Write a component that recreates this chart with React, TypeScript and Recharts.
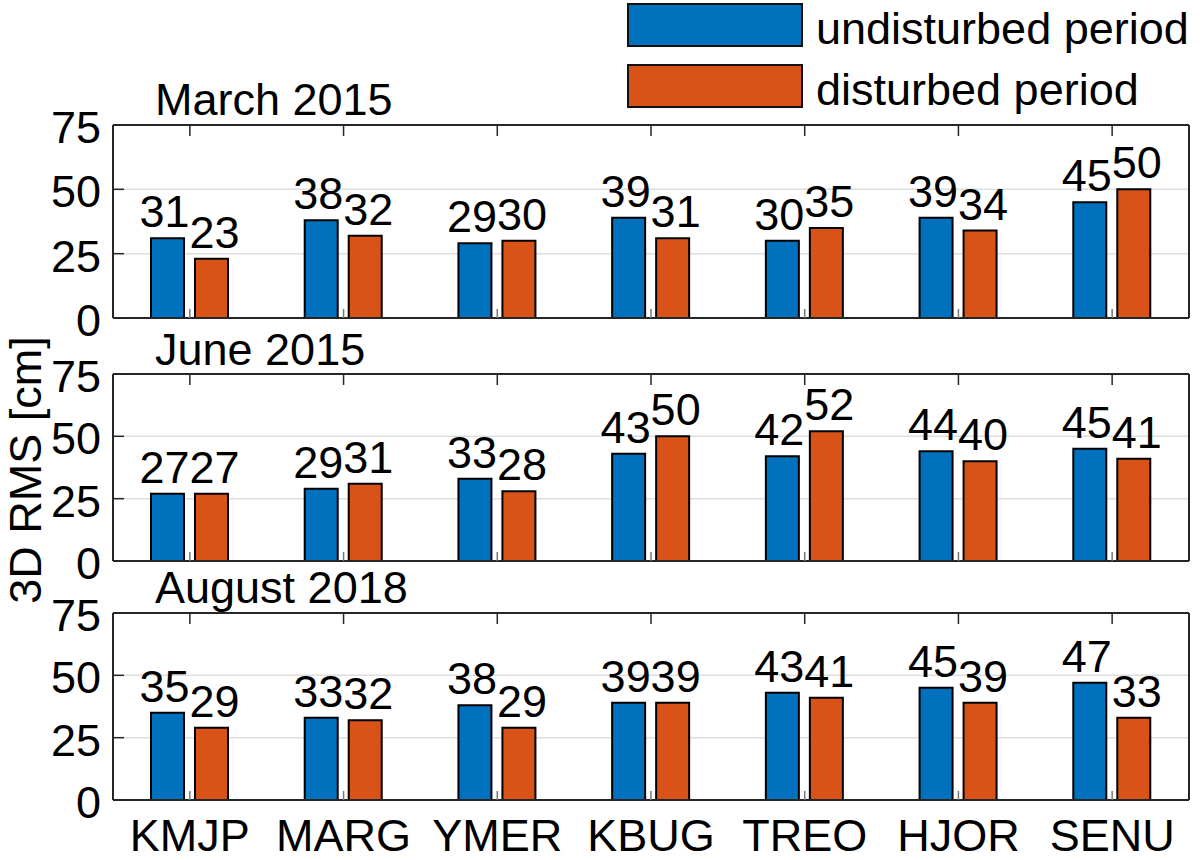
import React from 'react';
import {
  BarChart,
  Bar,
  XAxis,
  YAxis,
  CartesianGrid,
  LabelList,
  Legend,
} from 'recharts';

const FONT = '"Liberation Sans", Arial, Helvetica, sans-serif';

const categories = ['KMJP', 'MARG', 'YMER', 'KBUG', 'TREO', 'HJOR', 'SENU'];

const marchUndisturbed = [31, 38, 29, 39, 30, 39, 45];
const marchDisturbed = [23, 32, 30, 31, 35, 34, 50];

const juneUndisturbed = [27, 29, 33, 43, 42, 44, 45];
const juneDisturbed = [27, 31, 28, 50, 52, 40, 41];

const augustUndisturbed = [35, 33, 38, 39, 43, 45, 47];
const augustDisturbed = [29, 32, 29, 39, 41, 39, 33];

const yTicks = [0, 25, 50, 75];
const panelTitles = ['March 2015', 'June 2015', 'August 2018'];
const seriesNames = ['undisturbed period', 'disturbed period'];
const seriesColors = ['#0072BD', '#D95319'];
const yAxisTitle = '3D RMS [cm]';

const W = 1200;
const H = 860;
const LEFT = 113;
const RIGHT = 1189;
const AX = '#262626';

const LEFT_W = 60;
const RIGHT_W = 8;
const TOP_H = 20;
const BOTTOM_H = 50;

const panelBoxes = [
  { top: 125, bottom: 318, titleY: 115 },
  { top: 374, bottom: 561, titleY: 365 },
  { top: 613, bottom: 800, titleY: 603 },
];

const buildRows = (u: number[], d: number[]) =>
  categories.map((c, i) => ({ station: c, u: u[i], d: d[i] }));

const panelData = [
  buildRows(marchUndisturbed, marchDisturbed),
  buildRows(juneUndisturbed, juneDisturbed),
  buildRows(augustUndisturbed, augustDisturbed),
];

const LeftTick = (props: any) => {
  const { x, y, payload } = props;
  return (
    <g>
      <line x1={x} y1={y} x2={x + 11} y2={y} stroke={AX} strokeWidth={1.5} />
      <text
        x={x - 12}
        y={y + 18}
        textAnchor="end"
        fontSize={45}
        fontFamily={FONT}
        fill="#000"
      >
        {payload.value}
      </text>
    </g>
  );
};

const RightTick = (props: any) => {
  const { x, y } = props;
  return <line x1={x} y1={y} x2={x - 11} y2={y} stroke={AX} strokeWidth={1.5} />;
};

const TopTick = (props: any) => {
  const { x, y } = props;
  return <line x1={x} y1={y} x2={x} y2={y + 11} stroke={AX} strokeWidth={1.5} />;
};

const makeBottomTick = (showLabel: boolean) => (props: any) => {
  const { x, y, payload } = props;
  return (
    <g>
      <line x1={x} y1={y} x2={x} y2={y - 9} stroke="#777" strokeWidth={1.5} />
      {showLabel && (
        <text
          x={x}
          y={y + 51}
          textAnchor="middle"
          fontSize={45}
          fontFamily={FONT}
          fill="#000"
        >
          {payload.value}
        </text>
      )}
    </g>
  );
};

const makeBarLabel = (shift: number) => (props: any) => {
  const { x, y, width, value } = props;
  return (
    <text
      x={Number(x) + Number(width) / 2 + shift}
      y={Number(y) - 11}
      textAnchor="middle"
      fontSize={45}
      fontFamily={FONT}
      fill="#000"
    >
      {value}
    </text>
  );
};

const LeftBarLabel = makeBarLabel(-3);
const RightBarLabel = makeBarLabel(3);

const LegendContent = () => (
  <div style={{ fontFamily: FONT, fontSize: 45, lineHeight: '45px' }}>
    {seriesNames.map((name, i) => (
      <div
        key={name}
        style={{
          display: 'flex',
          alignItems: 'center',
          height: 44,
          marginBottom: i === 0 ? 17 : 0,
        }}
      >
        <div
          style={{
            width: 176,
            height: 44,
            boxSizing: 'border-box',
            border: '2px solid #111',
            background: seriesColors[i],
          }}
        />
        <span
          style={{
            marginLeft: 13,
            position: 'relative',
            top: 3,
            whiteSpace: 'nowrap',
            color: '#000',
          }}
        >
          {name}
        </span>
      </div>
    ))}
  </div>
);

const Panel = ({ index }: { index: number }) => {
  const box = panelBoxes[index];
  const isLast = index === panelBoxes.length - 1;
  const BottomTick = makeBottomTick(isLast);
  return (
    <div style={{ position: 'absolute', left: 0, top: 0, width: W, height: H }}>
      <BarChart
        width={W}
        height={H}
        data={panelData[index]}
        margin={{
          top: box.top - TOP_H,
          bottom: H - box.bottom - BOTTOM_H,
          left: LEFT - LEFT_W,
          right: W - RIGHT - RIGHT_W,
        }}
        barSize={33}
        barGap={11}
      >
        <CartesianGrid vertical={false} stroke="#dedede" strokeWidth={1.5} />
        <Bar
          dataKey="u"
          name={seriesNames[0]}
          fill={seriesColors[0]}
          stroke="#000"
          strokeWidth={2}
          isAnimationActive={false}
        >
          <LabelList dataKey="u" content={LeftBarLabel} />
        </Bar>
        <Bar
          dataKey="d"
          name={seriesNames[1]}
          fill={seriesColors[1]}
          stroke="#000"
          strokeWidth={2}
          isAnimationActive={false}
        >
          <LabelList dataKey="d" content={RightBarLabel} />
        </Bar>
        <XAxis
          dataKey="station"
          height={BOTTOM_H}
          tickSize={0}
          tickMargin={0}
          interval={0}
          tick={BottomTick}
          axisLine={{ stroke: AX, strokeWidth: 2 }}
          tickLine={false}
        />
        <XAxis
          xAxisId="top"
          orientation="top"
          dataKey="station"
          height={TOP_H}
          tickSize={0}
          tickMargin={0}
          interval={0}
          tick={TopTick}
          axisLine={{ stroke: AX, strokeWidth: 2 }}
          tickLine={false}
        />
        <YAxis
          type="number"
          domain={[0, 75]}
          ticks={yTicks}
          width={LEFT_W}
          tickSize={0}
          tickMargin={0}
          interval={0}
          tick={LeftTick}
          axisLine={{ stroke: AX, strokeWidth: 2 }}
          tickLine={false}
        />
        <YAxis
          yAxisId="right"
          orientation="right"
          type="number"
          domain={[0, 75]}
          ticks={yTicks}
          width={RIGHT_W}
          tickSize={0}
          tickMargin={0}
          interval={0}
          tick={RightTick}
          axisLine={{ stroke: AX, strokeWidth: 2 }}
          tickLine={false}
        />
        {index === 0 && (
          <Legend
            layout="vertical"
            align="center"
            verticalAlign="middle"
            content={<LegendContent />}
            wrapperStyle={{ position: 'absolute', left: 627, top: 3, width: 600 }}
          />
        )}
      </BarChart>
    </div>
  );
};

export default function App() {
  return (
    <div
      style={{
        position: 'absolute',
        left: 0,
        top: 0,
        width: W,
        height: H,
        background: '#fff',
        overflow: 'hidden',
        fontFamily: FONT,
      }}
    >
      {panelBoxes.map((_, i) => (
        <Panel key={i} index={i} />
      ))}
      <svg
        width={W}
        height={H}
        style={{ position: 'absolute', left: 0, top: 0, pointerEvents: 'none' }}
      >
        {panelBoxes.map((b, i) => (
          <text
            key={panelTitles[i]}
            x={155}
            y={b.titleY}
            fontSize={45}
            fontFamily={FONT}
            fill="#000"
          >
            {panelTitles[i]}
          </text>
        ))}
        <text
          transform="translate(41, 470) rotate(-90)"
          textAnchor="middle"
          fontSize={45}
          fontFamily={FONT}
          fill="#000"
        >
          {yAxisTitle}
        </text>
      </svg>
    </div>
  );
}
